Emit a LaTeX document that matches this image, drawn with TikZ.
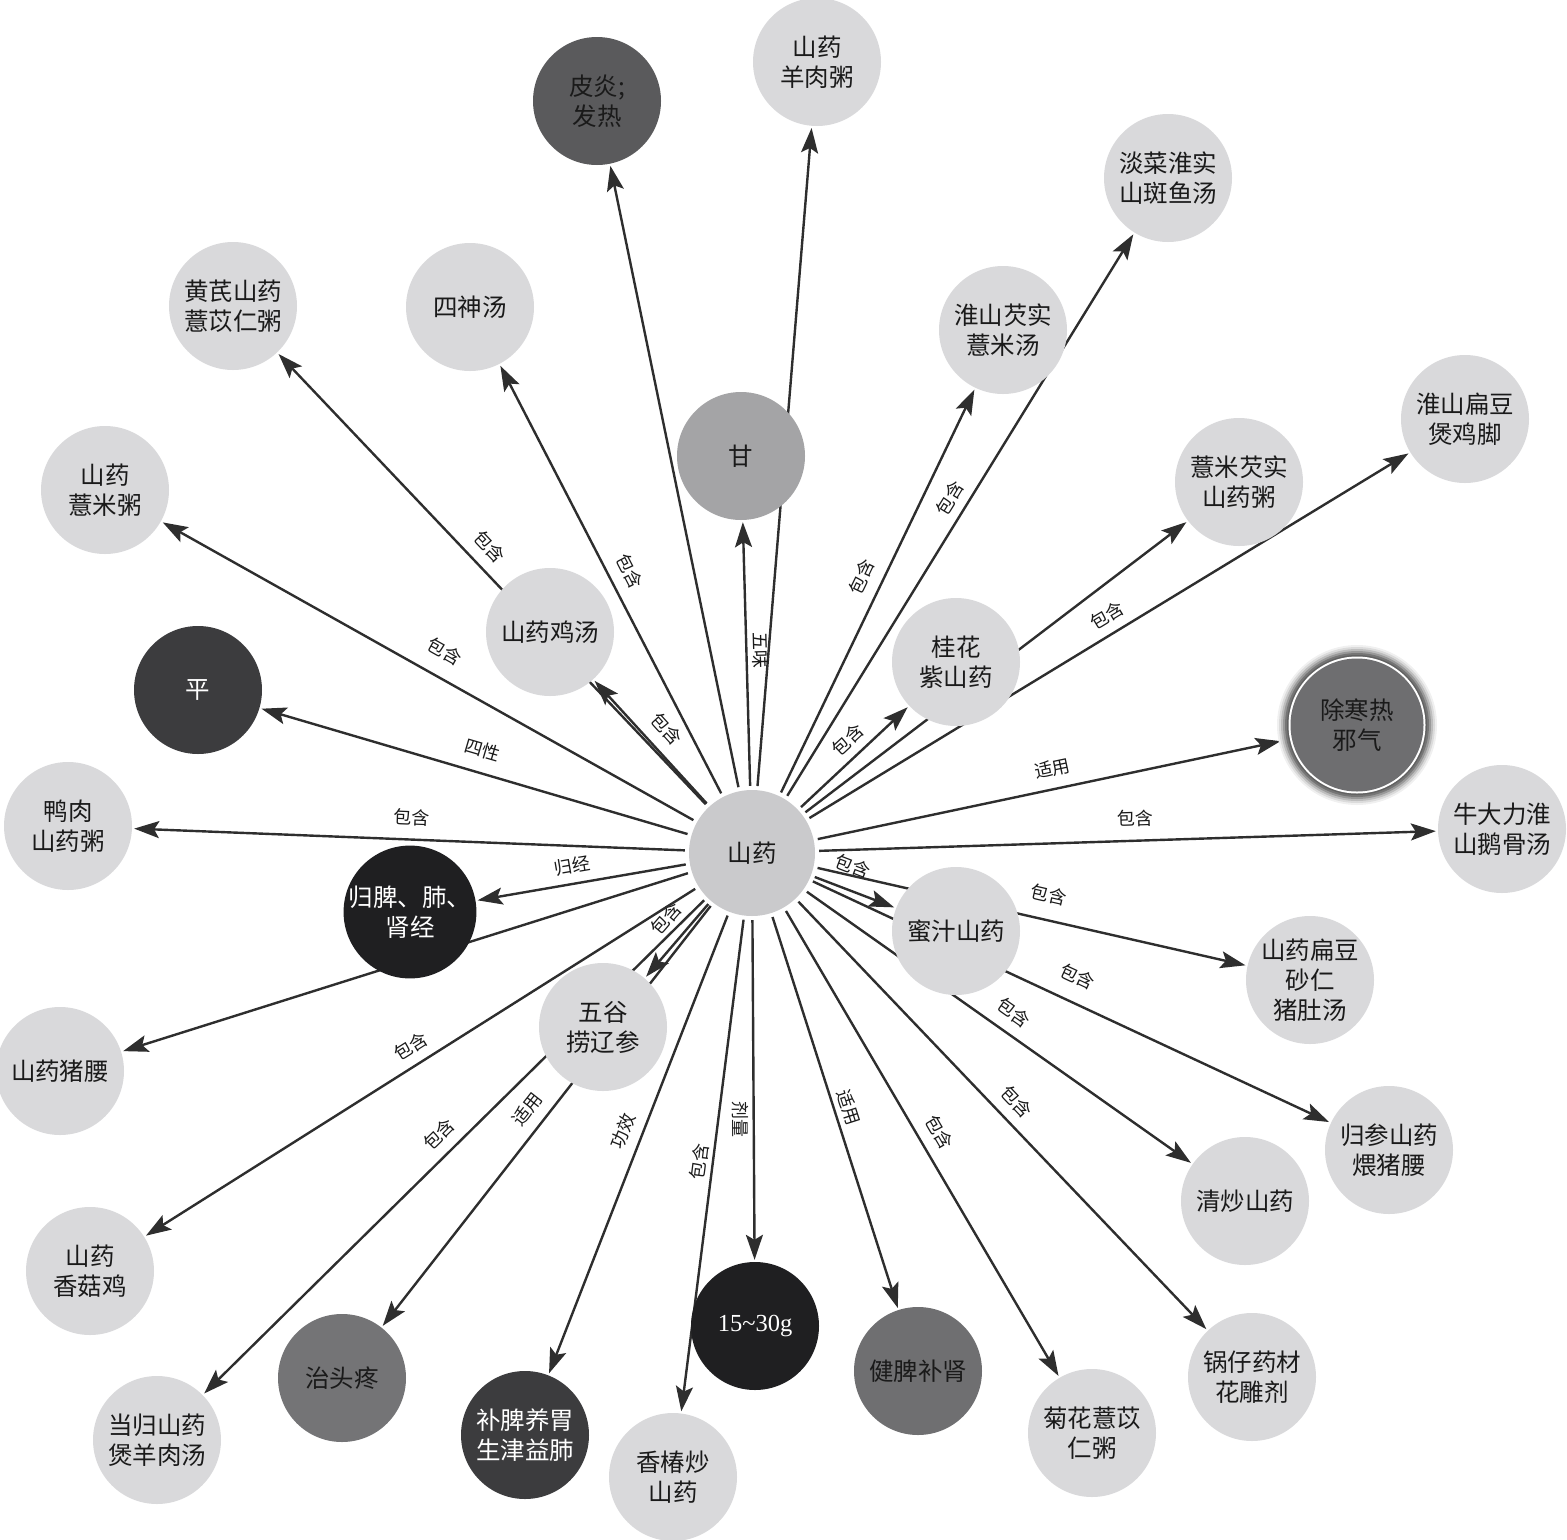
\documentclass[tikz,border=0pt]{standalone}
\usepackage{fontspec}
\setmainfont{Noto Sans CJK SC}
\newfontfamily\numfont{Liberation Serif}
\usetikzlibrary{arrows.meta,backgrounds}
\definecolor{lite}{HTML}{D9D9DB}
\definecolor{ctr}{HTML}{CACACC}
\definecolor{midg}{HTML}{A4A4A6}
\definecolor{dgray}{HTML}{5A5A5C}
\definecolor{dk}{HTML}{3C3C3E}
\definecolor{blk}{HTML}{1F1F21}
\definecolor{mgray}{HTML}{747476}
\definecolor{mgrayb}{HTML}{6F6F71}
\definecolor{hrfill}{HTML}{6E6E70}
\definecolor{ink}{HTML}{1A1A1A}
\definecolor{edgec}{HTML}{2E2E2E}
\begin{document}
\begin{tikzpicture}[x=1pt,y=-1pt,
  bub/.style={circle, minimum size=128pt, inner sep=0pt, align=center, fill=lite, text=ink,
    font=\fontsize{24.5}{30}\selectfont},
  ctrbub/.style={bub, fill=ctr, minimum size=126pt},
  darkbub/.style={bub, fill=#1, text=white},
  conn/.style={draw=edgec, line width=2.4pt, -{Stealth[length=25pt,width=17pt,inset=5pt]},
    shorten <=4pt, shorten >=2pt},
  lab/.style={sloped, inner sep=0pt, text=ink, font=\fontsize{18}{20}\selectfont}
]
\useasboundingbox (0,0) rectangle (1567,1540);

% glow of the highlighted node
\foreach \r/\k in {80/6,78/14,76/26,74/40,72/54,70/62}
  \fill[black!\k] (1357,725) circle[radius=\r pt];
\fill[white] (1357,725) circle[radius=68.5pt];
\fill[hrfill] (1357,725) circle[radius=66.5pt];

% nodes
\node[ctrbub] (c) at (752,853) {山药};
\node[bub, fill=dgray] (pi) at (597,101) {皮炎;\\发热};
\node[bub] (yrz) at (817,62) {山药\\羊肉粥};
\node[bub] (dc) at (1168,178) {淡菜淮实\\山斑鱼汤};
\node[bub] (hq) at (233,306) {黄芪山药\\薏苡仁粥};
\node[bub] (ss) at (470,307) {四神汤};
\node[bub] (qs) at (1003,330) {淮山芡实\\薏米汤};
\node[bub, fill=midg] (gan) at (741,456) {甘};
\node[bub] (bd) at (1465,419) {淮山扁豆\\煲鸡脚};
\node[bub] (ym) at (105,490) {山药\\薏米粥};
\node[bub] (yq) at (1239,482) {薏米芡实\\山药粥};
\node[bub] (jt) at (550,632) {山药鸡汤};
\node[bub] (gh) at (956,662) {桂花\\紫山药};
\node[darkbub=dk] (ping) at (198,690) {平};
\node[bub, fill=none, minimum size=152pt] (hr) at (1357,725) {除寒热\\邪气};
\node[bub] (yr) at (68,826) {鸭肉\\山药粥};
\node[bub] (nd) at (1502,829) {牛大力淮\\山鹅骨汤};
\node[darkbub=blk] (gp) at (410,912) {归脾、肺、\\肾经};
\node[bub] (mz) at (956,931) {蜜汁山药};
\node[bub] (bs) at (1310,980) {山药扁豆\\砂仁\\猪肚汤};
\node[bub] (wg) at (603,1027) {五谷\\捞辽参};
\node[bub] (yz) at (60,1071) {山药猪腰};
\node[bub] (gs) at (1389,1150) {归参山药\\煨猪腰};
\node[bub] (qc) at (1245,1201) {清炒山药};
\node[bub] (xg) at (90,1271) {山药\\香菇鸡};
\node[darkbub=blk, font=\numfont\fontsize{24.5}{30}\selectfont] (dose) at (755,1326) {15\textasciitilde30g};
\node[bub, fill=mgray] (ztt) at (342,1378) {治头疼};
\node[bub, fill=mgrayb] (jp) at (918,1371) {健脾补肾};
\node[bub] (gz) at (1252,1377) {锅仔药材\\花雕剂};
\node[bub] (dg) at (157,1440) {当归山药\\煲羊肉汤};
\node[darkbub=dk] (bp) at (525,1435) {补脾养胃\\生津益肺};
\node[bub] (jh) at (1092,1433) {菊花薏苡\\仁粥};
\node[bub] (xc) at (673,1477) {香椿炒\\山药};

% connectors
\begin{pgfonlayer}{background}
\draw[conn] (c) -- (pi);
\draw[conn] (c) -- (yrz);
\draw[conn] (c) -- node[lab,pos=.515,above=8pt]{包含} (dc);
\draw[conn] (c) -- node[lab,pos=.542,above=11pt]{包含} (hq);
\draw[conn] (c) -- node[lab,pos=.50,above=11pt]{包含} (ss);
\draw[conn] (c) -- node[lab,pos=.516,above=4.5pt]{五味} (gan);
\draw[conn] (c) -- node[lab,pos=.515,above=11pt]{包含} (qs);
\draw[conn] (c) -- node[lab,pos=.514,above=8.5pt]{包含} (bd);
\draw[conn] (c) -- node[lab,pos=.494,above=16pt]{包含} (ym);
\draw[conn] (c) -- (yq);
\draw[conn] (c) -- node[lab,pos=.50,above=11.5pt]{包含} (jt);
\draw[conn] (c) -- node[lab,pos=.554,above=7.5pt]{包含} (gh);
\draw[conn] (c) -- node[lab,pos=.498,above=13pt]{四性} (ping);
\draw[conn] (c) -- node[lab,pos=.518,above=11pt]{适用} (hr);
\draw[conn] (c) -- node[lab,pos=.50,above=12.5pt]{包含} (yr);
\draw[conn] (c) -- node[lab,pos=.515,above=13pt]{包含} (nd);
\draw[conn] (c) -- node[lab,pos=.536,above=9pt]{归经} (gp);
\draw[conn] (c) -- node[lab,pos=.39,above=14pt]{包含} (mz);
\draw[conn] (c) -- node[lab,pos=.529,above=15.5pt]{包含} (bs);
\draw[conn] (c) -- node[lab,pos=.417,above=13pt]{包含} (wg);
\draw[conn] (c) -- (yz);
\draw[conn] (c) -- node[lab,pos=.494,above=16pt]{包含} (gs);
\draw[conn] (c) -- node[lab,pos=.51,above=11pt]{包含} (qc);
\draw[conn] (c) -- node[lab,pos=.501,above=9pt]{包含} (xg);
\draw[conn] (c) -- node[lab,pos=.501,above=10.5pt]{包含} (gz);
\draw[conn] (c) -- node[lab,pos=.504,above=10pt]{包含} (dg);
\draw[conn] (c) -- node[lab,pos=.514,above=10pt]{适用} (ztt);
\draw[conn] (c) -- node[lab,pos=.488,above=9.5pt]{功效} (bp);
\draw[conn] (c) -- node[lab,pos=.498,above=4pt]{包含} (xc);
\draw[conn] (c) -- node[lab,pos=.587,below=4pt]{剂量} (dose);
\draw[conn] (c) -- node[lab,pos=.50,above=5pt]{适用} (jp);
\draw[conn] (c) -- node[lab,pos=.50,above=11pt]{包含} (jh);
\end{pgfonlayer}
\end{tikzpicture}
\end{document}
